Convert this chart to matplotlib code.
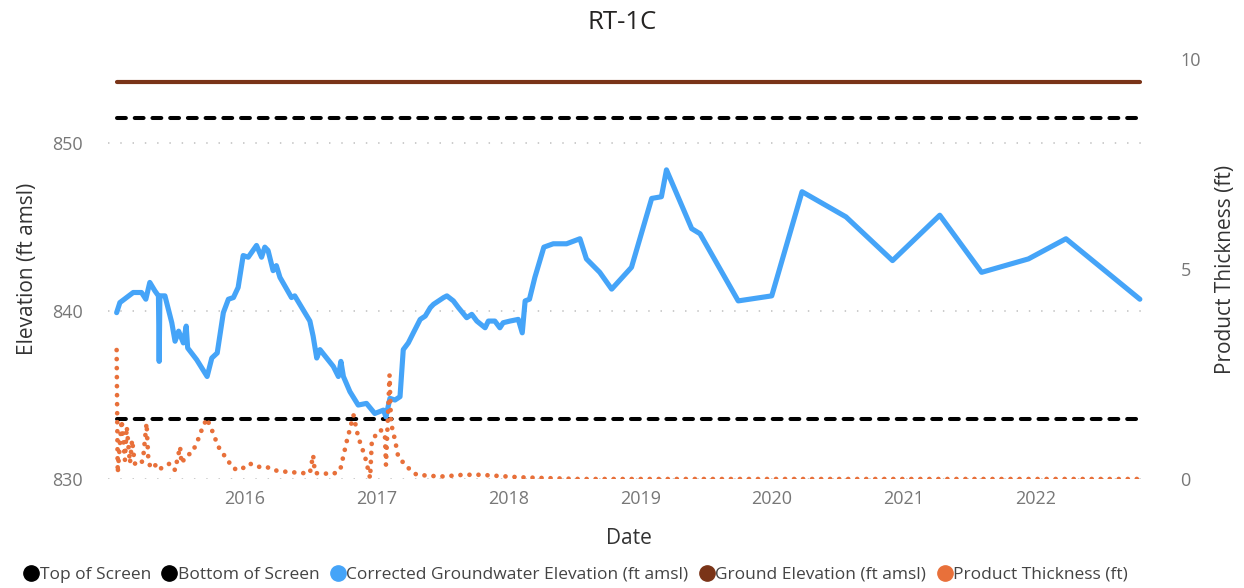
import pandas as pd
import matplotlib
matplotlib.use("Agg")
import matplotlib.pyplot as plt
import matplotlib.dates as mdates
from matplotlib.lines import Line2D

# ── data ─────────────────────────────────────────────────────────────────────

gw_dates = [
    "2015-01-10", "2015-01-19", "2015-02-25", "2015-03-20", "2015-04-01",
    "2015-04-12", "2015-04-26", "2015-05-06", "2015-05-08", "2015-05-10",
    "2015-05-24", "2015-06-12", "2015-06-21", "2015-07-01", "2015-07-14",
    "2015-07-22", "2015-07-26", "2015-08-20", "2015-09-18", "2015-10-01",
    "2015-10-16", "2015-11-02", "2015-11-16", "2015-11-30", "2015-12-13",
    "2015-12-27", "2016-01-10", "2016-02-02", "2016-02-16", "2016-02-25",
    "2016-03-05", "2016-03-19", "2016-03-28", "2016-04-07", "2016-05-09",
    "2016-05-18", "2016-06-29", "2016-07-08", "2016-07-18", "2016-07-27",
    "2016-09-02", "2016-09-16", "2016-09-23", "2016-09-30", "2016-10-18",
    "2016-11-10", "2016-12-03", "2016-12-26", "2017-01-19", "2017-01-26",
    "2017-02-06", "2017-02-20", "2017-03-06", "2017-03-15", "2017-03-29",
    "2017-04-12", "2017-05-01", "2017-05-15", "2017-05-29", "2017-06-07",
    "2017-07-05", "2017-07-14", "2017-08-01", "2017-08-15", "2017-09-07",
    "2017-09-21", "2017-10-05", "2017-10-28", "2017-11-06", "2017-11-24",
    "2017-12-08", "2017-12-17", "2018-01-05", "2018-01-28", "2018-02-08",
    "2018-02-16", "2018-02-28", "2018-03-15", "2018-04-09", "2018-05-05",
    "2018-06-11", "2018-07-18", "2018-08-05", "2018-09-11", "2018-10-14",
    "2018-12-08", "2019-02-02", "2019-03-01", "2019-03-15", "2019-05-24",
    "2019-06-16", "2019-09-30", "2020-01-01", "2020-03-25", "2020-07-25",
    "2020-12-01", "2021-04-11", "2021-08-05", "2021-12-13", "2022-03-27",
    "2022-10-18",
]
gw_elev = [
    839.9, 840.5, 841.1, 841.1, 840.7,
    841.7, 841.2, 840.9, 837.0, 840.9,
    840.9, 839.3, 838.2, 838.8, 838.1,
    839.1, 837.8, 837.1, 836.1, 837.2,
    837.5, 839.9, 840.7, 840.8, 841.4,
    843.3, 843.2, 843.9, 843.2, 843.8,
    843.6, 842.4, 842.7, 842.0, 840.8,
    840.9, 839.4, 838.5, 837.2, 837.7,
    836.7, 836.1, 837.0, 836.1, 835.2,
    834.4, 834.5, 833.9, 834.1, 833.7,
    834.8, 834.7, 834.9, 837.7, 838.1,
    838.7, 839.5, 839.7, 840.2, 840.4,
    840.8, 840.9, 840.6, 840.2, 839.6,
    839.8, 839.4, 839.0, 839.4, 839.4,
    839.0, 839.3, 839.4, 839.5, 838.7,
    840.6, 840.7, 842.0, 843.8, 844.0,
    844.0, 844.3, 843.1, 842.3, 841.3,
    842.6, 846.7, 846.8, 848.4, 844.9,
    844.6, 840.6, 840.9, 847.1, 845.6,
    843.0, 845.7, 842.3, 843.1, 844.3,
    840.7,
]

pt_dates = [
    "2015-01-10", "2015-01-13", "2015-01-24", "2015-02-02", "2015-02-07",
    "2015-02-16", "2015-02-22", "2015-03-01", "2015-03-15", "2015-03-24",
    "2015-04-03", "2015-04-08", "2015-04-12", "2015-04-21", "2015-05-06",
    "2015-05-19", "2015-06-07", "2015-06-21", "2015-07-05", "2015-07-09",
    "2015-07-23", "2015-08-06", "2015-08-20", "2015-09-03", "2015-09-17",
    "2015-10-01", "2015-10-19", "2015-11-07", "2015-11-30", "2015-12-18",
    "2016-01-14", "2016-02-02", "2016-03-01", "2016-03-19", "2016-04-26",
    "2016-06-11", "2016-06-29", "2016-07-08", "2016-07-13", "2016-09-02",
    "2016-09-21", "2016-10-09", "2016-10-28", "2016-11-10", "2016-11-29",
    "2016-12-13", "2016-12-18", "2017-01-10", "2017-01-23", "2017-01-26",
    "2017-01-30", "2017-02-05", "2017-02-09", "2017-02-20", "2017-03-01",
    "2017-03-25", "2017-04-21", "2017-06-07", "2017-07-05", "2017-08-28",
    "2017-10-14", "2017-12-08", "2018-02-02", "2018-04-20", "2018-07-18",
    "2019-03-15", "2020-01-01", "2021-04-11", "2022-10-18",
]
pt_thick = [
    3.07, 0.14, 1.40, 0.45, 1.25,
    0.38, 0.93, 0.37, 0.33, 0.45,
    1.33, 0.45, 0.33, 0.41, 0.21,
    0.29, 0.37, 0.21, 0.77, 0.37,
    0.57, 0.61, 0.85, 1.17, 1.44,
    1.17, 0.77, 0.53, 0.25, 0.21,
    0.37, 0.29, 0.29, 0.21, 0.17,
    0.14, 0.14, 0.57, 0.14, 0.12,
    0.21, 0.89, 1.52, 1.00, 0.53,
    0.02, 0.93, 1.17, 1.09, 0.33,
    1.17, 2.48, 1.33, 0.93, 0.53,
    0.29, 0.10, 0.07, 0.06, 0.10,
    0.10, 0.07, 0.04, 0.02, 0.00,
    0.00, 0.00, 0.00, 0.00,
]

top_of_screen = 851.5
bottom_of_screen = 833.6
ground_elev = 853.6

year_ticks = ["2016", "2017", "2018", "2019", "2020", "2021", "2022"]

series_labels = [
    "Top of Screen", "Bottom of Screen",
    "Corrected Groundwater Elevation (ft amsl)",
    "Ground Elevation (ft amsl)", "Product Thickness (ft)",
]

# ── style ────────────────────────────────────────────────────────────────────

BLUE = "#45A4F8"
ORANGE = "#E8703A"
BROWN = "#7A3418"
BLACK = "#000000"
TICK_GREY = "#777777"
LABEL_DARK = "#333333"

plt.rcParams["font.family"] = ["Open Sans", "DejaVu Sans"]

gw_x = pd.to_datetime(gw_dates)
pt_x = pd.to_datetime(pt_dates)
span = [gw_x[0], gw_x[-1]]

fig = plt.figure(figsize=(12.44, 5.88), dpi=100)
ax = fig.add_axes([0.0868, 0.1854, 0.9244 - 0.0868, 0.8997 - 0.1854])
ax2 = ax.twinx()

# reference lines
ax.plot(span, [ground_elev] * 2, color=BROWN, lw=3.0,
        solid_capstyle="round", zorder=3)
for level in (top_of_screen, bottom_of_screen):
    ax.plot(span, [level] * 2, color=BLACK, lw=2.9,
            dashes=(2.2, 2.2), dash_capstyle="round", zorder=2)

# groundwater
ax.plot(gw_x, gw_elev, color=BLUE, lw=3.7, solid_joinstyle="round",
        solid_capstyle="round", zorder=4)

# product thickness (secondary axis)
ax2.plot(pt_x, pt_thick, color=ORANGE, lw=3.4,
         dashes=(0.01, 1.9), dash_capstyle="round")

# axes
ax.set_ylim(830, 855)
ax.set_yticks([830, 840, 850])
ax2.set_ylim(0, 10)
ax2.set_yticks([0, 5, 10])
ax.set_xlim(pd.Timestamp("2014-12-17"), pd.Timestamp("2022-11-15"))
ax.set_xticks(pd.to_datetime(year_ticks))
ax.xaxis.set_major_formatter(mdates.DateFormatter("%Y"))

ax.grid(axis="y", color="#C8C8C8", lw=1.3, linestyle=(0, (0.8, 6)))
for a in (ax, ax2):
    for s in a.spines.values():
        s.set_visible(False)
    a.tick_params(length=0, labelsize=13, labelcolor=TICK_GREY)
ax.tick_params(axis="x", pad=8)
ax.tick_params(axis="y", pad=18)
ax2.tick_params(axis="y", pad=22)

ax.set_xlabel("Date", fontsize=15, color=LABEL_DARK, labelpad=14)
ax.set_ylabel("Elevation (ft amsl)", fontsize=15, color=LABEL_DARK, labelpad=10)
ax2.set_ylabel("Product Thickness (ft)", fontsize=15, color=LABEL_DARK,
               labelpad=10)

fig.text(0.5, 0.962, "RT-1C", ha="center", va="center", fontsize=18.5,
         color="#252423")

# legend
colors = [BLACK, BLACK, BLUE, BROWN, ORANGE]
handles = [Line2D([], [], marker="o", linestyle="", markersize=11,
                  markerfacecolor=c, markeredgecolor=c) for c in colors]
fig.legend(handles, series_labels, loc="lower left",
           bbox_to_anchor=(0.004, -0.018), ncol=5, frameon=False,
           fontsize=12.5, handletextpad=-0.1, columnspacing=0.45,
           handlelength=1.2, labelcolor="#444444")

plt.savefig("out.png", dpi=100)
plt.close()
